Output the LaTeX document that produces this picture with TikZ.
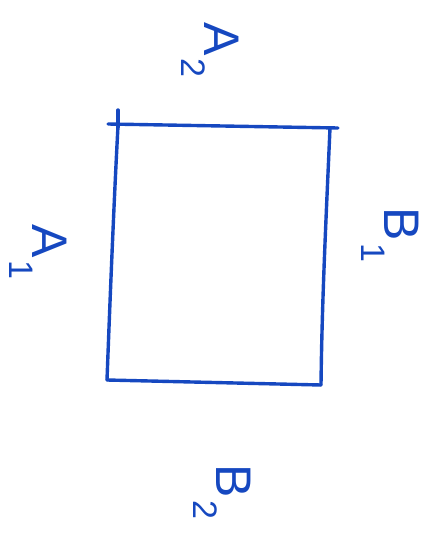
\documentclass[tikz,border=0pt]{standalone}
\usepackage{fontspec}
\setmainfont{Liberation Sans}
\definecolor{pen}{RGB}{22,72,192}
\newcommand{\penlabel}[2]{#1\hspace{2pt}\raisebox{-0.45em}{\fontsize{34}{38}\selectfont #2}}
\begin{document}
\begin{tikzpicture}[x=1pt,y=-1pt,
  stroke/.style={draw=pen,line width=3.4pt,line cap=round,line join=round},
  lbl/.style={text=pen,rotate=-90,font=\fontsize{50}{56}\selectfont,inner sep=0pt}]
\useasboundingbox (0,0) rectangle (432,542);
\coordinate (tl) at (112,125);
\coordinate (tr) at (333,128);
\coordinate (br) at (321,385);
\coordinate (bl) at (107,380);
\draw[stroke] (108,124) -- (338,128);
\draw[stroke] (118,110) -- (118,127);
\draw[stroke] (330,128) .. controls (326,220) and (322,300) .. (br);
\draw[stroke] (br) -- (bl);
\draw[stroke] (bl) .. controls (110,300) and (114,200) .. (118,126);
\node[lbl] (a2) at (210,50) {\penlabel{A}{2}};
\node[lbl] (a1) at (38,252) {\penlabel{A}{1}};
\node[lbl] (b1) at (390,235) {\penlabel{B}{1}};
\node[lbl] (b2) at (222,492) {\penlabel{B}{2}};
\end{tikzpicture}
\end{document}
